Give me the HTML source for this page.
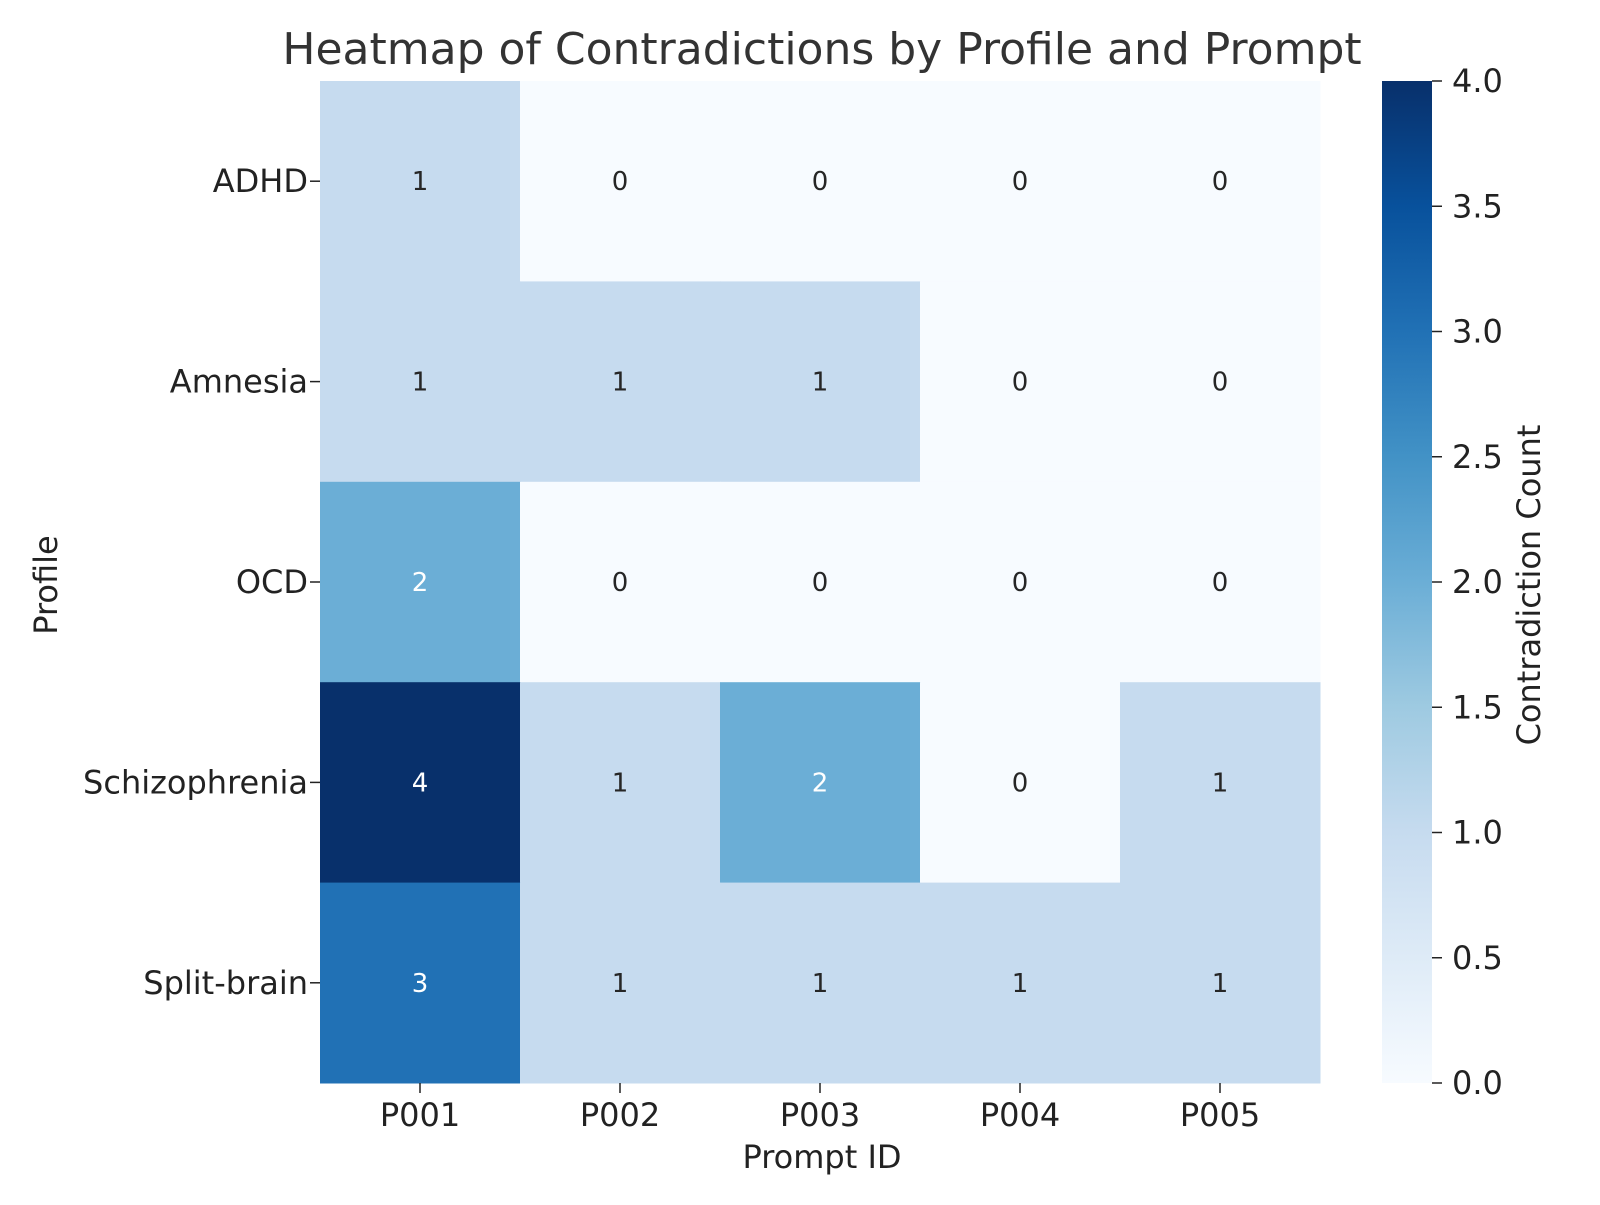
<!DOCTYPE html>
<html><head><meta charset="utf-8"><style>
body{margin:0;background:#fff;}
svg text{font-family:"DejaVu Sans","Liberation Sans",sans-serif;}
</style></head><body>
<svg id="c" width="1600" height="1200" viewBox="0 0 1600 1200">
<defs><linearGradient id="g" x1="0" y1="1" x2="0" y2="0">
<stop offset="0" stop-color="#f7fbff"/><stop offset="0.125" stop-color="#deebf7"/><stop offset="0.25" stop-color="#c6dbef"/><stop offset="0.375" stop-color="#9ecae1"/><stop offset="0.5" stop-color="#6baed6"/><stop offset="0.625" stop-color="#4292c6"/><stop offset="0.75" stop-color="#2171b5"/><stop offset="0.875" stop-color="#08519c"/><stop offset="1" stop-color="#08306b"/></linearGradient></defs>
<text x="822" y="64" font-size="44" text-anchor="middle" fill="#333">Heatmap of Contradictions by Profile and Prompt</text>
<g id="cells"></g>
<text x="822" y="1168" font-size="32" text-anchor="middle" fill="#222">Prompt ID</text>
<text transform="translate(57,585) rotate(-90)" font-size="32" text-anchor="middle" fill="#222">Profile</text>
<rect x="1382" y="81" width="50" height="1002" fill="url(#g)"/>
<g id="cbticks"></g>
<text transform="translate(1540,585) rotate(-90)" font-size="32" text-anchor="middle" fill="#222">Contradiction Count</text>
</svg>
<script>
const prompts=["P001","P002","P003","P004","P005"];
const profiles=["ADHD","Amnesia","OCD","Schizophrenia","Split-brain"];
const values=[[1,0,0,0,0],[1,1,1,0,0],[2,0,0,0,0],[4,1,2,0,1],[3,1,1,1,1]];
const cbTicks=[0,0.5,1,1.5,2,2.5,3,3.5,4];
const vmax=4;
const L=320,T=81,W=1000,H=1002;
const stops=["#f7fbff","#deebf7","#c6dbef","#9ecae1","#6baed6","#4292c6","#2171b5","#08519c","#08306b"];
function hex(h){return [1,3,5].map(i=>parseInt(h.substr(i,2),16));}
function color(v){let t=Math.max(0,Math.min(1,v/vmax))*8;let i=Math.min(7,Math.floor(t)),f=t-i;let a=hex(stops[i]),b=hex(stops[i+1]);return "rgb("+a.map((x,k)=>Math.round(x+(b[k]-x)*f)).join(",")+")";}
const cw=W/prompts.length,ch=H/profiles.length;
const xs=j=>L+j*cw, ys=i=>T+i*ch;
const ns="http://www.w3.org/2000/svg";
const g=document.getElementById("cells");
function mk(tag,attrs,parent){const e=document.createElementNS(ns,tag);for(const k in attrs)e.setAttribute(k,attrs[k]);parent.appendChild(e);return e;}
values.forEach((row,i)=>row.forEach((v,j)=>{
 const r=mk("rect",{x:xs(j),y:ys(i),width:cw+0.5,height:ch+0.5,fill:color(v)},g);
 
 
 const t=mk("text",{x:xs(j)+cw/2,y:ys(i)+ch/2+9,"font-size":"26","text-anchor":"middle",fill:v>=2?"#fff":"#262626"},g);
 t.textContent=v;
 
 
}));
prompts.forEach((p,j)=>{
 const x=xs(j)+cw/2;
 const l=mk("line",{x1:x,x2:x,y1:T+H,y2:T+H+10,stroke:"#222","stroke-width":"1.5"},g);
 
 
 const t=mk("text",{x:x,y:T+H+43,"font-size":"32","text-anchor":"middle",fill:"#222"},g);
 t.textContent=p;
 
 
});
profiles.forEach((p,i)=>{
 const y=ys(i)+ch/2;
 const l=mk("line",{x1:L-10,x2:L,y1:y,y2:y,stroke:"#222","stroke-width":"1.5"},g);
 
 
 const t=mk("text",{x:L-12,y:y+11,"font-size":"32","text-anchor":"end",fill:"#222"},g);
 t.textContent=p;
 
 
});
const cg=document.getElementById("cbticks");
cbTicks.forEach(v=>{
 const y=T+H-v/vmax*H;
 const l=mk("line",{x1:1432,x2:1442,y1:y,y2:y,stroke:"#222","stroke-width":"1.5"},cg);
 
 
 const t=mk("text",{x:1452,y:y+11,"font-size":"32",fill:"#222"},cg);
 t.textContent=v.toFixed(1);
 
 
});
</script>
</body></html>
